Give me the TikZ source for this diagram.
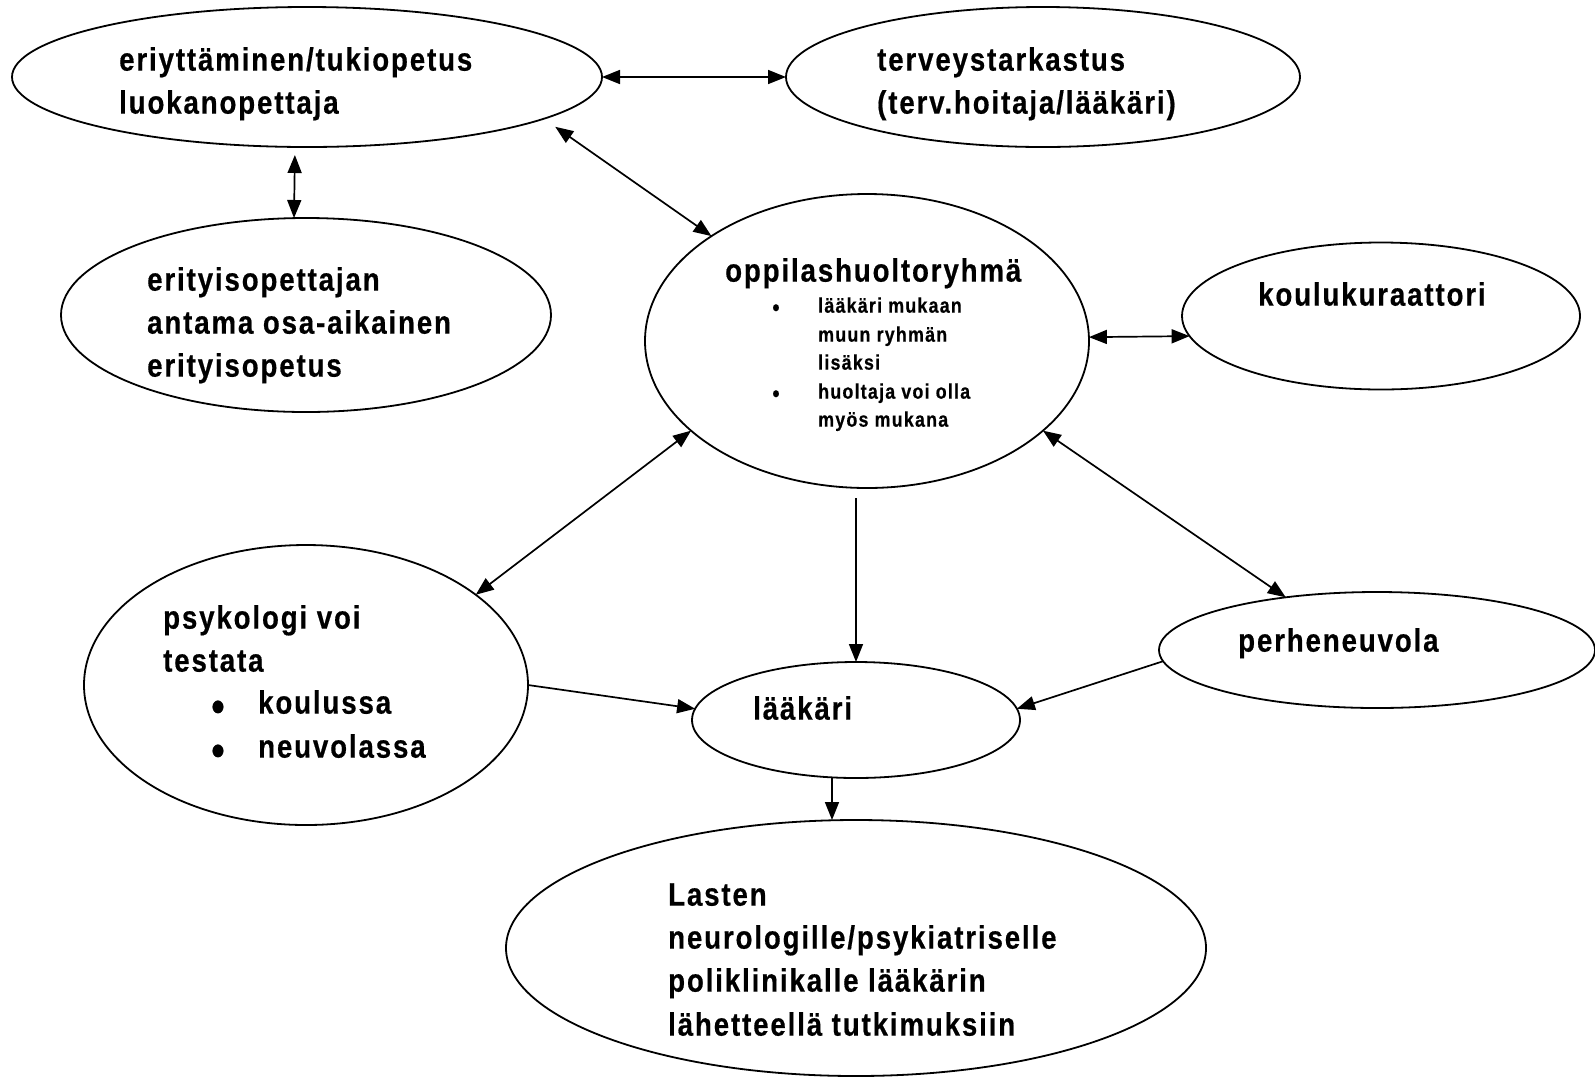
\documentclass[tikz,border=0pt]{standalone}
\usepackage{fontspec}
\setmainfont{Liberation Sans}[FakeStretch=0.85,LetterSpace=5.8,FakeBold=0.5]
\usetikzlibrary{arrows.meta,shapes.geometric}
\begin{document}
\begin{tikzpicture}[x=1pt,y=-1pt,
  >={Triangle[length=18pt,width=14pt]},
  ell/.style={ellipse, draw, line width=1.8pt, inner sep=0pt, outer sep=0pt},
  conn/.style={line width=1.7pt},
  txt/.style={anchor=mid west, inner sep=0pt, font=\fontsize{32.5}{38}\selectfont\bfseries},
  smalltxt/.style={anchor=mid west, inner sep=0pt, font=\fontsize{21}{25}\selectfont\bfseries},
  bul/.style={anchor=center, inner sep=0pt, font=\fontsize{44}{48}\selectfont\bfseries},
  smallbul/.style={anchor=center, inner sep=0pt, font=\fontsize{24}{28}\selectfont\bfseries}]
\useasboundingbox (0,0) rectangle (1595,1080);

% ellipses
\node[ell, minimum width=590pt, minimum height=140pt] (A) at (307,77) {};
\node[ell, minimum width=514pt, minimum height=140pt] (B) at (1043,77) {};
\node[ell, minimum width=490pt, minimum height=194pt] (C) at (306,315) {};
\node[ell, minimum width=444pt, minimum height=294pt] (D) at (867,341) {};
\node[ell, minimum width=398pt, minimum height=147pt] (E) at (1381,316) {};
\node[ell, minimum width=444pt, minimum height=280pt] (F) at (306,685) {};
\node[ell, minimum width=328pt, minimum height=116pt] (G) at (856,720) {};
\node[ell, minimum width=436pt, minimum height=116pt] (H) at (1377,650) {};
\node[ell, minimum width=700pt, minimum height=256pt] (I) at (856,948) {};

% texts
\node[txt] (A1) at (119,68) {eriyttäminen/tukiopetus};
\node[txt] (A2) at (119,111) {luokanopettaja};
\node[txt] (B1) at (877,68) {terveystarkastus};
\node[txt] (B2) at (877,111) {(terv.hoitaja/lääkäri)};
\node[txt] (C1) at (147,288) {erityisopettajan};
\node[txt] (C2) at (147,331) {antama osa-aikainen};
\node[txt] (C3) at (147,374) {erityisopetus};
\node[txt] (D0) at (725,279) {oppilashuoltoryhmä};
\node[smallbul] (Db1) at (776,310) {•};
\node[smalltxt] (D1) at (818,310) {lääkäri mukaan};
\node[smalltxt] (D2) at (818,339) {muun ryhmän};
\node[smalltxt] (D3) at (818,367) {lisäksi};
\node[smallbul] (Db2) at (776,396) {•};
\node[smalltxt] (D4) at (818,396) {huoltaja voi olla};
\node[smalltxt] (D5) at (818,424) {myös mukana};
\node[txt] (E1) at (1258,303) {koulukuraattori};
\node[txt] (F1) at (163,626) {psykologi voi};
\node[txt] (F2) at (163,669) {testata};
\node[bul] (Fb1) at (218,711) {•};
\node[txt] (F3) at (258,711) {koulussa};
\node[bul] (Fb2) at (218,755) {•};
\node[txt] (F4) at (258,755) {neuvolassa};
\node[txt] (G1) at (753,717) {lääkäri};
\node[txt] (H1) at (1238,649) {perheneuvola};
\node[txt] (I1) at (668,903) {Lasten};
\node[txt] (I2) at (668,946) {neurologille/psykiatriselle};
\node[txt] (I3) at (668,989) {poliklinikalle lääkärin};
\node[txt] (I4) at (668,1033) {lähetteellä tutkimuksiin};

% connectors
\draw[conn,<->] (A.east) -- (B.west);
\draw[conn,<->,shorten <=8pt] ([xshift=-12pt]A.south) -- ([xshift=-12pt]C.north);
\draw[conn,<->,shorten <=14pt] (A.-10.4) -- (D.146.7);
\draw[conn,<->] (D.1.5) -- (E.186);
\draw[conn,<->] (D.207.2) -- (F.28);
\draw[conn,<->] (D.-27.1) -- (H.150.4);
\draw[conn,->,shorten <=10pt] (D.south -| G.north) -- (G.north);
\draw[conn,->] (F.east) -- (G.176.5);
\draw[conn,->] (H.183.4) -- (G.4.2);
\draw[conn,->] ([xshift=-24pt]G.south) -- ([xshift=-24pt]I.north);
\end{tikzpicture}
\end{document}
